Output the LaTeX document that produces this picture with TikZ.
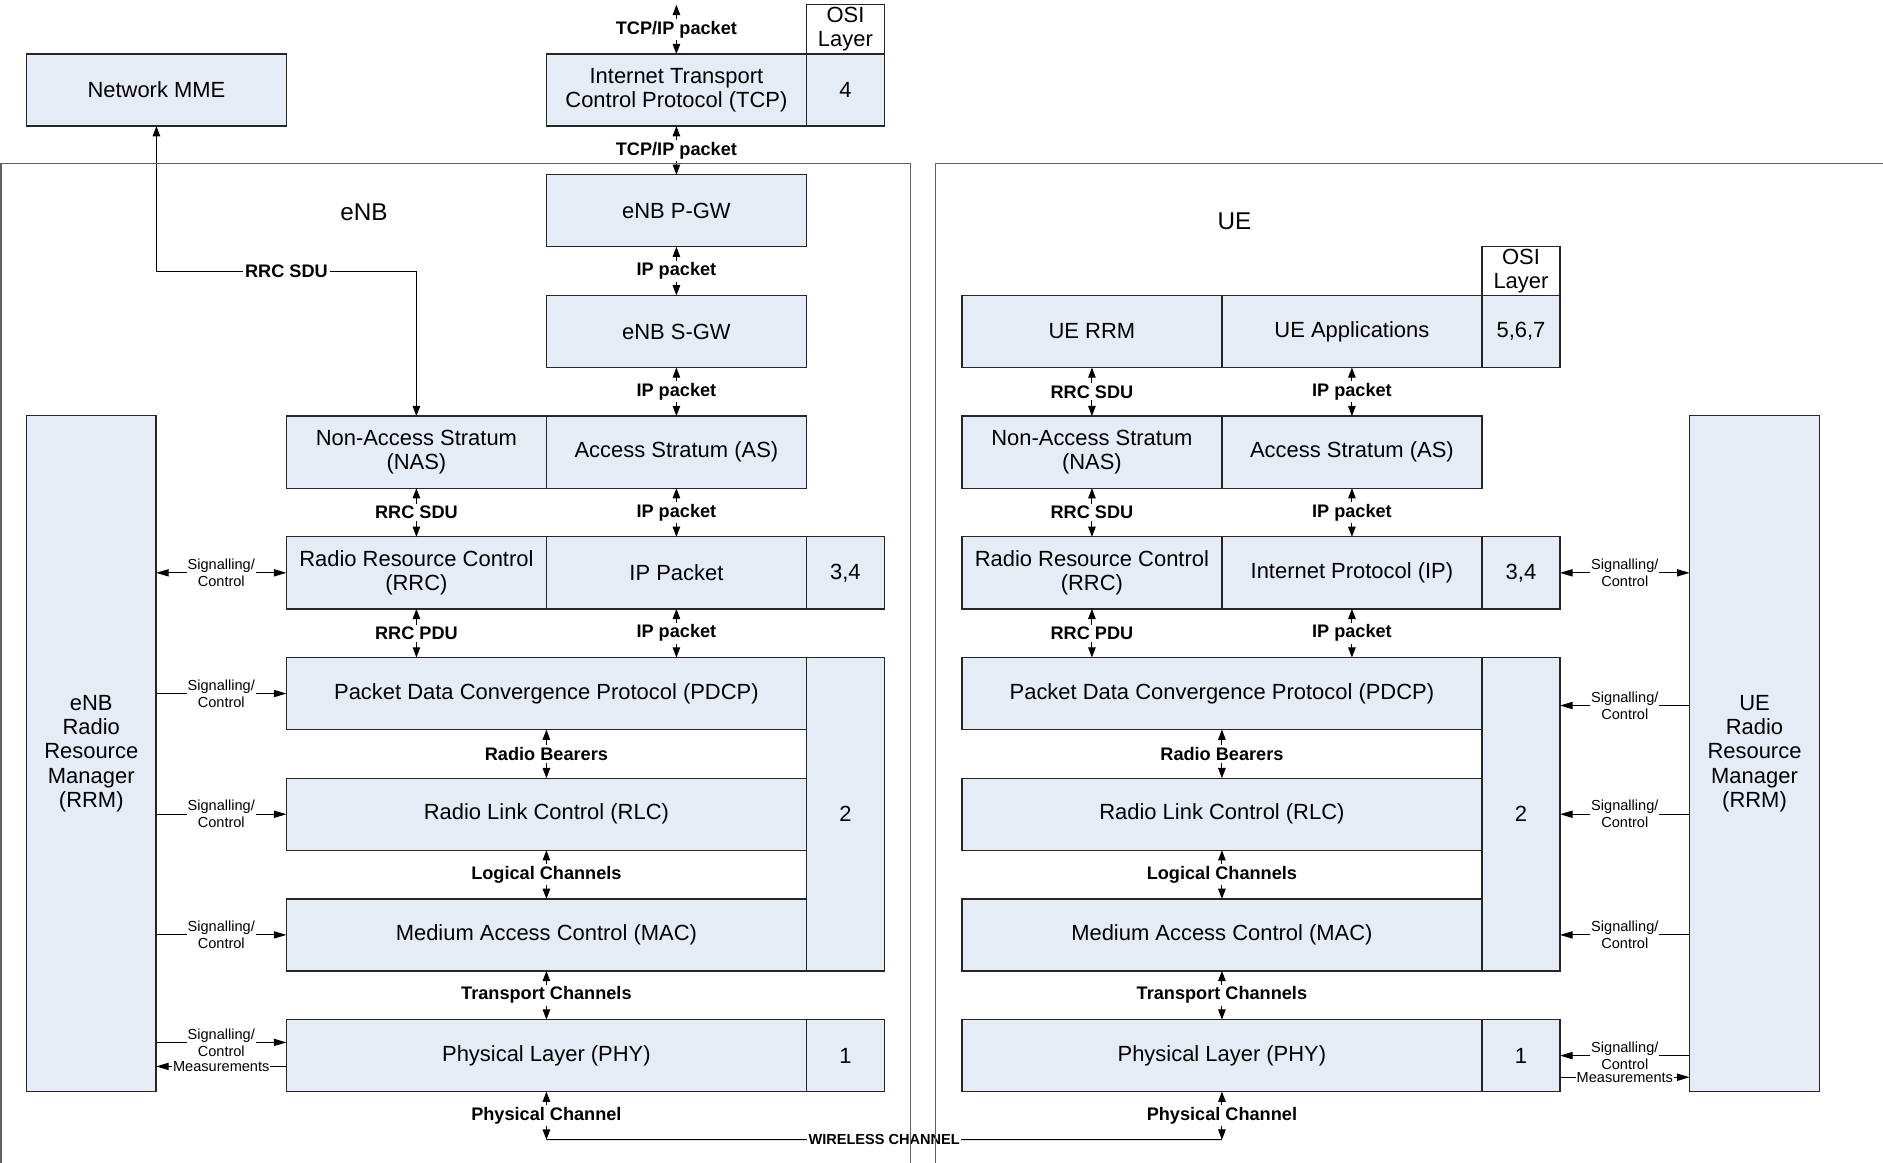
\documentclass[tikz,border=0pt]{standalone}
\usepackage{fontspec}
\setmainfont{Liberation Sans}
\usetikzlibrary{arrows.meta,positioning,calc}
\definecolor{boxfill}{RGB}{230,236,246}
\definecolor{framegray}{RGB}{95,95,95}

\begin{document}
\begin{tikzpicture}[
  x=0.2mm, y=-0.2mm,
  >={Triangle[length=1.7mm,width=1.25mm]},
  blk/.style={draw=black!85, fill=boxfill, line width=0.6pt, outer sep=0pt,
    minimum width=43.3mm, minimum height=12mm, inner sep=1pt, align=center,
    font=\fontsize{10.4}{11.5}\selectfont},
  wide/.style={blk, minimum width=86.6mm},
  num/.style={blk, minimum width=13mm},
  hdr/.style={blk, fill=white, minimum width=13mm, minimum height=8.2mm, inner sep=0pt},
  rrm/.style={blk, minimum width=21.6mm, minimum height=112.6mm},
  dbl/.style={<->, line width=0.5pt},
  arr/.style={->, line width=0.5pt},
  sdbl/.style={{Triangle[length=2.1mm,width=1.2mm]}-{Triangle[length=2.1mm,width=1.2mm]}, line width=0.5pt},
  sarr/.style={-{Triangle[length=2.1mm,width=1.2mm]}, line width=0.5pt},
  lbl/.style={fill=white, inner sep=1pt, font=\bfseries\fontsize{8.6}{10}\selectfont},
  wlbl/.style={fill=white, inner sep=0.5pt, font=\bfseries\fontsize{6.9}{8}\selectfont},
  sig/.style={fill=white, inner sep=0.5pt, align=center, font=\fontsize{6.9}{8}\selectfont},
  encl/.style={draw=framegray, line width=0.7pt}
]
\useasboundingbox (0,0) rectangle (1568,968);
\clip (0,0) rectangle (1568,968);

% network side
\node[blk, anchor=north west] (mme) at (22,45) {Network MME};
\node[blk, anchor=north west] (tcp) at (455,45) {Internet Transport\\Control Protocol (TCP)};
\node[num, right=0pt of tcp] (tcpN) {4};
\node[hdr, above=0pt of tcpN] (osiE) {OSI\\Layer};
\coordinate (tcpIn) at (tcp.north |- osiE.north);

% eNB stack
\node[font=\fontsize{11.5}{13}\selectfont] (enbT) at (303,177) {eNB};
\node[blk, below=8.1mm of tcp] (pgw) {eNB P-GW};
\node[blk, below=8.1mm of pgw] (sgw) {eNB S-GW};
\node[blk, below=8.1mm of sgw] (asE) {Access Stratum (AS)};
\node[blk, left=0pt of asE] (nasE) {Non-Access Stratum\\(NAS)};
\node[blk, below=8.1mm of asE] (ipE) {IP Packet};
\node[blk, left=0pt of ipE] (rrcE) {Radio Resource Control\\(RRC)};
\node[num, right=0pt of ipE] (n34E) {3,4};
\node[wide, below=8.1mm of rrcE.south west, anchor=north west] (pdcpE) {Packet Data Convergence Protocol (PDCP)};
\node[num, anchor=north west, minimum height=52.2mm] (n2E) at (pdcpE.north east) {2};
\node[wide, below=8.1mm of pdcpE] (rlcE) {Radio Link Control (RLC)};
\node[wide, below=8.1mm of rlcE] (macE) {Medium Access Control (MAC)};
\node[wide, below=8.1mm of macE] (phyE) {Physical Layer (PHY)};
\node[num, right=0pt of phyE] (n1E) {1};
\node[rrm, anchor=north west] (rrmE) at (22,346) {eNB\\Radio\\Resource\\Manager\\(RRM)};

% UE stack
\node[font=\fontsize{11.5}{13}\selectfont] (ueT) at (1028,184) {UE};
\node[blk, anchor=north west] (ueRrm) at (801,246) {UE RRM};
\node[blk, right=0pt of ueRrm] (ueApp) {UE Applications};
\node[num, right=0pt of ueApp] (n567) {5,6,7};
\node[hdr, above=0pt of n567] (osiU) {OSI\\Layer};
\node[blk, below=8.1mm of ueRrm] (nasU) {Non-Access Stratum\\(NAS)};
\node[blk, right=0pt of nasU] (asU) {Access Stratum (AS)};
\node[blk, below=8.1mm of nasU] (rrcU) {Radio Resource Control\\(RRC)};
\node[blk, right=0pt of rrcU] (ipU) {Internet Protocol (IP)};
\node[num, right=0pt of ipU] (n34U) {3,4};
\node[wide, below=8.1mm of rrcU.south west, anchor=north west] (pdcpU) {Packet Data Convergence Protocol (PDCP)};
\node[num, anchor=north west, minimum height=52.2mm] (n2U) at (pdcpU.north east) {2};
\node[wide, below=8.1mm of pdcpU] (rlcU) {Radio Link Control (RLC)};
\node[wide, below=8.1mm of rlcU] (macU) {Medium Access Control (MAC)};
\node[wide, below=8.1mm of macU] (phyU) {Physical Layer (PHY)};
\node[num, right=0pt of phyU] (n1U) {1};
\node[rrm, anchor=north west] (rrmU) at (1407,346) {UE\\Radio\\Resource\\Manager\\(RRM)};

% eNB data path
\draw[dbl] (tcpIn) -- (tcp.north) node[lbl, midway] {TCP/IP packet};
\draw[dbl] (tcp.south) -- (pgw.north) node[lbl, midway] {TCP/IP packet};
\draw[dbl] (pgw) -- (sgw) node[lbl, midway] {IP packet};
\draw[dbl] (sgw) -- (asE) node[lbl, midway] {IP packet};
\draw[dbl] (nasE) -- (rrcE) node[lbl, midway] {RRC SDU};
\draw[dbl] (asE) -- (ipE) node[lbl, midway] {IP packet};
\draw[dbl] (rrcE.south) -- (rrcE.south |- pdcpE.north) node[lbl, midway] {RRC PDU};
\draw[dbl] (ipE.south) -- (ipE.south |- pdcpE.north) node[lbl, midway] {IP packet};
\draw[dbl] (pdcpE) -- (rlcE) node[lbl, midway] {Radio Bearers};
\draw[dbl] (rlcE) -- (macE) node[lbl, midway] {Logical Channels};
\draw[dbl] (macE) -- (phyE) node[lbl, midway] {Transport Channels};
\coordinate (sduE) at ($(pgw.south)!0.5!(sgw.north)$);
\draw[dbl] (mme.south) |- (nasE.north |- sduE) node[lbl, pos=0.75] {RRC SDU} -- (nasE.north);

% eNB RRM signalling
\draw[sdbl] (rrmE.east |- rrcE.west) -- (rrcE.west) node[sig, midway] {Signalling/\\Control};
\foreach \b in {pdcpE, rlcE, macE}
  \draw[sarr] (rrmE.east |- \b.west) -- (\b.west) node[sig, midway] {Signalling/\\Control};
\draw[sarr] ([yshift=2.2mm]rrmE.east |- phyE.west) -- ([yshift=2.2mm]phyE.west) node[sig, midway] {Signalling/\\Control};
\draw[sarr] ([yshift=-1.8mm]phyE.west) -- ([yshift=-1.8mm]rrmE.east |- phyE.west) node[sig, midway] {Measurements};

% UE data path
\draw[dbl] (ueRrm) -- (nasU) node[lbl, midway] {RRC SDU};
\draw[dbl] (ueApp) -- (asU) node[lbl, midway] {IP packet};
\draw[dbl] (nasU) -- (rrcU) node[lbl, midway] {RRC SDU};
\draw[dbl] (asU) -- (ipU) node[lbl, midway] {IP packet};
\draw[dbl] (rrcU.south) -- (rrcU.south |- pdcpU.north) node[lbl, midway] {RRC PDU};
\draw[dbl] (ipU.south) -- (ipU.south |- pdcpU.north) node[lbl, midway] {IP packet};
\draw[dbl] (pdcpU) -- (rlcU) node[lbl, midway] {Radio Bearers};
\draw[dbl] (rlcU) -- (macU) node[lbl, midway] {Logical Channels};
\draw[dbl] (macU) -- (phyU) node[lbl, midway] {Transport Channels};

% UE RRM signalling
\draw[sdbl] (n34U.east) -- (n34U.east -| rrmU.west) node[sig, midway] {Signalling/\\Control};
\draw[sarr] ([yshift=-2mm]rrmU.west |- pdcpU.east) -- ([yshift=-2mm]n2U.east |- pdcpU.east) node[sig, midway] {Signalling/\\Control};
\foreach \b in {rlcU, macU}
  \draw[sarr] (rrmU.west |- \b.east) -- (n2U.east |- \b.east) node[sig, midway] {Signalling/\\Control};
\draw[sarr] (rrmU.west |- n1U.east) -- (n1U.east) node[sig, midway] {Signalling/\\Control};
\draw[sarr] ([yshift=-3.6mm]n1U.east) -- ([yshift=-3.6mm]rrmU.west |- n1U.east) node[sig, midway] {Measurements};

% wireless channel
\coordinate (wlE) at ([yshift=-8mm]phyE.south);
\coordinate (wlU) at ([yshift=-8mm]phyU.south);
\draw[dbl] (phyE) -- (wlE) node[lbl, midway] {Physical Channel};
\draw[dbl] (phyU) -- (wlU) node[lbl, midway] {Physical Channel};
\draw[line width=0.5pt] (wlE) -- (wlU) node[wlbl, midway] {WIRELESS CHANNEL};

% enclosures
\draw[encl] (1,136) rectangle (758,1000);
\draw[encl] (779,136) rectangle (1600,1000);
\end{tikzpicture}
\end{document}
